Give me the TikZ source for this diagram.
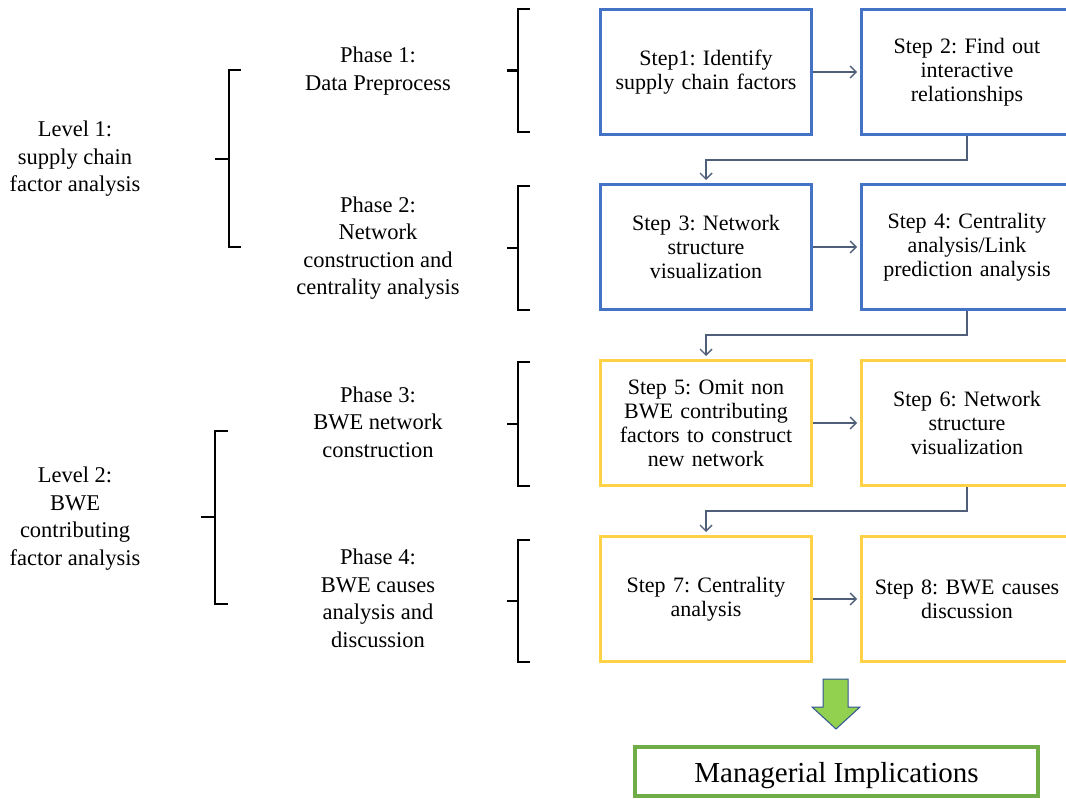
\documentclass[tikz,border=0pt]{standalone}
\usepackage{fontspec}
\setmainfont{Liberation Serif}
\frenchspacing
\usetikzlibrary{arrows.meta}
\definecolor{boxblue}{HTML}{4472C4}
\definecolor{boxgold}{HTML}{FFD147}
\definecolor{conncol}{HTML}{4F5F7A}
\definecolor{mgreen}{HTML}{70AD47}
\definecolor{agreen}{HTML}{92D050}
\definecolor{aedge}{HTML}{2F5597}
\tikzset{
  stepbox/.style={draw, line width=3pt, fill=white, minimum width=211pt, minimum height=125pt, inner sep=0pt, align=center, text width=205pt,
    font=\fontsize{22}{24}\selectfont},
  bluebox/.style={stepbox, draw=boxblue},
  goldbox/.style={stepbox, draw=boxgold},
  conn/.style={draw=conncol, line width=1.4pt, -{Straight Barb[length=6pt,width=12pt,line width=1.4pt]}, shorten >=3pt},
  lbl/.style={align=center, inner sep=0pt, font=\fontsize{22.5}{27.5}\selectfont},
  brk/.style={line width=2.2pt, black},
}
\begin{document}
\begin{tikzpicture}[x=1pt,y=-1pt]
\useasboundingbox (0,0) rectangle (1066,799);
\clip (0,0) rectangle (1066,799);
% step boxes
\node[bluebox] (s1) at (706,72) {Step1: Identify\\supply chain factors};
\node[bluebox] (s2) at (967,72) {Step 2: Find out\\interactive\\relationships};
\node[bluebox] (s3) at (706,247) {Step 3: Network\\structure\\visualization};
\node[bluebox] (s4) at (967,247) {Step 4: Centrality\\analysis/Link\\prediction analysis};
\node[goldbox] (s5) at (706,423) {Step 5: Omit non\\BWE contributing\\factors to construct\\new network};
\node[goldbox] (s6) at (967,423) {Step 6: Network\\structure\\visualization};
\node[goldbox] (s7) at (706,599) {Step 7: Centrality\\analysis};
\node[goldbox] (s8) at (967,599) {Step 8: BWE causes\\discussion};
% connectors
\draw[conn] (s1.east) -- (s2.west);
\draw[conn] (s3.east) -- (s4.west);
\draw[conn] (s5.east) -- (s6.west);
\draw[conn] (s7.east) -- (s8.west);
\draw[conn] (s2.south) -- ++(0,24) -| (s3.north);
\draw[conn] (s4.south) -- ++(0,24) -| (s5.north);
\draw[conn] (s6.south) -- ++(0,24) -| (s7.north);
% phase labels
\node[lbl] (p1) at (378,71) {Phase 1:\\Data Preprocess};
\node[lbl] (p2) at (378,248) {Phase 2:\\Network\\construction and\\centrality analysis};
\node[lbl] (p3) at (378,422) {Phase 3:\\BWE network\\construction};
\node[lbl] (p4) at (378,598.5) {Phase 4:\\BWE causes\\analysis and\\discussion};
% level labels
\node[lbl] (l1) at (75,159) {Level 1:\\supply chain\\factor analysis};
\node[lbl] (l2) at (75,518.5) {Level 2:\\BWE\\contributing\\factor analysis};
% phase brackets
\foreach \t/\b in {9/132, 186/310, 362/486, 540/662}{
  \draw[brk] (530,\t) -- (518,\t) -- (518,\b) -- (530,\b);
  \draw[brk] (518,{(\t+\b)/2}) -- (507,{(\t+\b)/2});
}
% level brackets
\draw[brk] (241,70) -- (229,70) -- (229,247) -- (241,247);
\draw[brk] (229,159) -- (215,159);
\draw[brk] (228,431) -- (215,431) -- (215,604) -- (228,604);
\draw[brk] (215,517) -- (201,517);
% green arrow
\draw[draw=aedge, line width=1pt, fill=agreen, line join=miter]
  (823,679) -- (848,679) -- (848,707) -- (860,707) -- (836,729) -- (812,707) -- (823,707) -- cycle;
% managerial box
\node[draw=mgreen, line width=3.2pt, minimum width=403pt, minimum height=49pt, inner sep=0pt,
  text height=28pt, text depth=6pt,
  font=\fontsize{29}{32}\selectfont] (mi) at (836.5,771.5) {Managerial Implications};
\end{tikzpicture}
\end{document}
